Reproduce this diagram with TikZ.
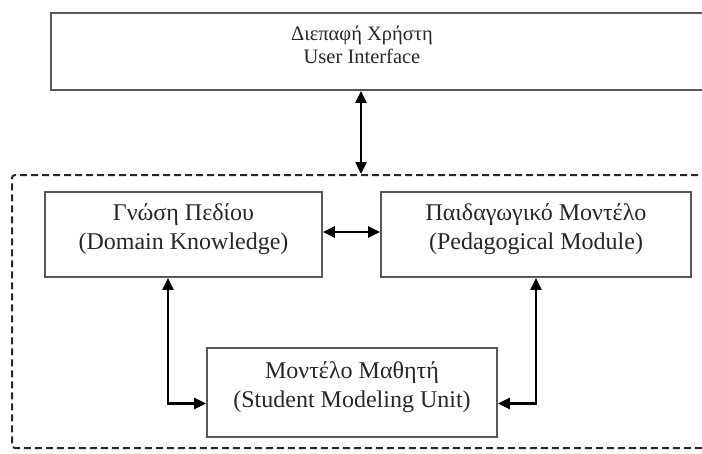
\documentclass[tikz,border=0pt]{standalone}
\usepackage{fontspec}
\setmainfont{Liberation Serif}
\usetikzlibrary{arrows.meta}
\definecolor{frame}{HTML}{585858}
\definecolor{ink}{HTML}{262630}
\tikzset{
    unit/.style={draw=frame,line width=1.8pt,fill=white,inner sep=0pt},
    caption/.style={text=ink,align=center,inner sep=0pt,font=\fontsize{24}{29}\selectfont},
    link/.style={line width=2.4pt,{Triangle[length=12pt,width=11pt]}-{Triangle[length=12pt,width=11pt]}},
}
\newcommand{\Unit}[6]{% name,cx,cy,width,height,text (centre in px)
    \node[unit,minimum width=#4pt,minimum height=#5pt] (#1) at (#2,#3) {};
    \node[caption] (#1-txt) at ([yshift=5pt]#1.center) {#6};
}

\begin{document}
\begin{tikzpicture}[x=1pt,y=-1pt]
        \useasboundingbox (0,0) rectangle (702,453);

        % outer dashed frame
        \node[draw=ink,line width=2pt,dash pattern=on 7pt off 4pt,rounded corners=3pt,
            minimum width=700pt,minimum height=273pt,inner sep=0pt] (core) at (362,311.5) {};

        % user interface (runs off the right edge)
        \node[unit,minimum width=659pt,minimum height=77pt] (ui) at (380.5,51.5) {};
        \node[caption,font=\fontsize{20.5}{23}\selectfont] (ui-txt) at (362,45) {Διεπαφή Χρήστη\\User Interface};

        \Unit{domain}{183.5}{234.5}{277}{85}{Γνώση Πεδίου\\(Domain Knowledge)};
        \Unit{pedagogy}{536}{234.5}{310}{85}{Παιδαγωγικό Μοντέλο\\(Pedagogical Module)};
        \Unit{student}{352}{392.5}{290}{89}{Μοντέλο Μαθητή\\(Student Modeling Unit)};

        \coordinate (axis) at (361,0);
        \draw[link] (ui.south -| axis) -- (core.north -| axis);
        \draw[link] ([yshift=2.5pt]domain.east) -- ([yshift=2.5pt]pedagogy.west);
        \draw[link] ([xshift=-15.5pt]domain.south) |- ([yshift=-11pt]student.west);
        \draw[link] (pedagogy.south) |- ([yshift=-11pt]student.east);

    \end{tikzpicture}
\end{document}
